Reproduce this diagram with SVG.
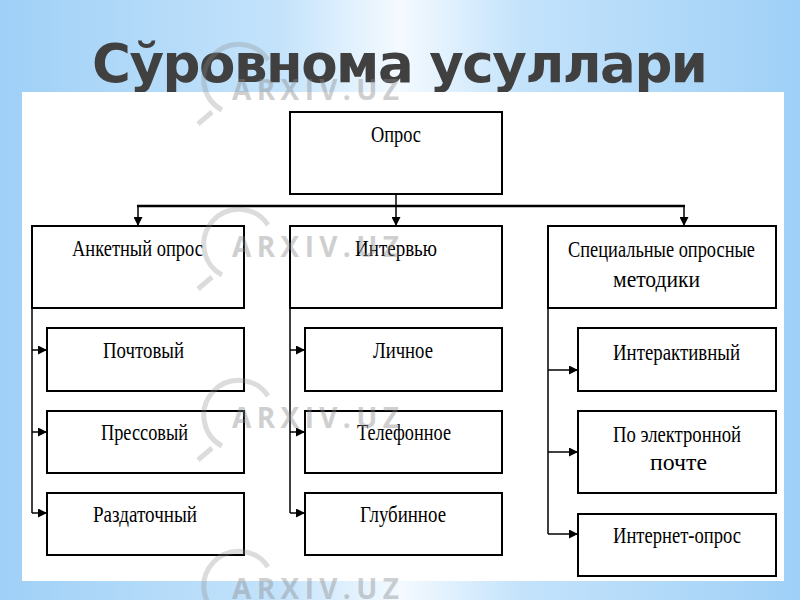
<svg xmlns="http://www.w3.org/2000/svg" width="800" height="600" viewBox="0 0 800 600">
<defs>
<linearGradient id="bg" x1="0" y1="0" x2="1" y2="0">
<stop offset="0" stop-color="#9fd0f7"/>
<stop offset="0.35" stop-color="#c4e3fb"/>
<stop offset="0.5" stop-color="#f4faff"/>
<stop offset="0.65" stop-color="#c4e3fb"/>
<stop offset="1" stop-color="#9fd0f7"/>
</linearGradient>
<marker id="ah" viewBox="0 0 10 10" refX="10" refY="5" markerWidth="11" markerHeight="9" markerUnits="userSpaceOnUse" orient="auto">
<path d="M0,0 L10,5 L0,10 Z" fill="#000"/>
</marker>
<style>
.box{fill:#fff;stroke:#000;stroke-width:2}
.t{font-family:"Liberation Serif","Times New Roman",serif;font-size:23px;fill:#000;text-anchor:start}
.c{fill:none;stroke:#000;stroke-width:1.5}
.ch{fill:none;stroke:#000;stroke-width:2.5}
.wm{font-family:"Open Sans","DejaVu Sans",sans-serif;font-weight:bold;font-size:28px;fill:#8a8a8a;opacity:0.4;letter-spacing:3px}
.wmc{fill:none;stroke:#8a8a8a;stroke-width:5;opacity:0.3}
</style>
</defs>
<rect x="0" y="0" width="800" height="600" fill="url(#bg)"/>
<text x="400" y="82" text-anchor="middle" font-family="DejaVu Sans, sans-serif" font-weight="bold" font-size="53" fill="#404040" textLength="616" lengthAdjust="spacing">Сўровнома усуллари</text>
<rect x="22" y="92" width="762" height="489" fill="#fff"/>

<g id="connectors">
<line class="c" x1="396" y1="194" x2="396" y2="206"/>
<line class="ch" x1="137" y1="206" x2="685" y2="206"/>
<line class="c" x1="138" y1="206" x2="138" y2="226" marker-end="url(#ah)"/>
<line class="c" x1="396" y1="206" x2="396" y2="226" marker-end="url(#ah)"/>
<line class="c" x1="684" y1="206" x2="684" y2="226" marker-end="url(#ah)"/>
<line class="c" x1="32" y1="308" x2="32" y2="513"/>
<line class="c" x1="32" y1="350" x2="47" y2="350" marker-end="url(#ah)"/>
<line class="c" x1="32" y1="432" x2="47" y2="432" marker-end="url(#ah)"/>
<line class="c" x1="32" y1="513" x2="47" y2="513" marker-end="url(#ah)"/>
<line class="c" x1="290" y1="308" x2="290" y2="513"/>
<line class="c" x1="290" y1="350" x2="305" y2="350" marker-end="url(#ah)"/>
<line class="c" x1="290" y1="432" x2="305" y2="432" marker-end="url(#ah)"/>
<line class="c" x1="290" y1="513" x2="305" y2="513" marker-end="url(#ah)"/>
<line class="c" x1="548" y1="308" x2="548" y2="534"/>
<line class="c" x1="548" y1="370" x2="578" y2="370" marker-end="url(#ah)"/>
<line class="c" x1="548" y1="452" x2="578" y2="452" marker-end="url(#ah)"/>
<line class="c" x1="548" y1="534" x2="578" y2="534" marker-end="url(#ah)"/>
</g>

<g id="opros"><rect class="box" x="290" y="112" width="212" height="82"/><text class="t" x="371" y="142" textLength="50" lengthAdjust="spacingAndGlyphs">Опрос</text></g>
<g id="anket"><rect class="box" x="32" y="226" width="212" height="82"/><text class="t" x="72" y="256" textLength="131" lengthAdjust="spacingAndGlyphs">Анкетный опрос</text></g>
<g id="interview"><rect class="box" x="290" y="226" width="212" height="82"/><text class="t" x="355" y="256" textLength="82" lengthAdjust="spacingAndGlyphs">Интервью</text></g>
<g id="special"><rect class="box" x="548" y="226" width="228" height="82"/><text class="t" x="568" y="257" textLength="187" lengthAdjust="spacingAndGlyphs">Специальные опросные</text><text class="t" x="613" y="287" textLength="87" lengthAdjust="spacingAndGlyphs">методики</text></g>

<g id="pochtovy"><rect class="box" x="47" y="328" width="197" height="63"/><text class="t" x="103" y="358" textLength="81" lengthAdjust="spacingAndGlyphs">Почтовый</text></g>
<g id="pressovy"><rect class="box" x="47" y="411" width="197" height="62"/><text class="t" x="101" y="440" textLength="87" lengthAdjust="spacingAndGlyphs">Прессовый</text></g>
<g id="razdatochny"><rect class="box" x="47" y="493" width="197" height="62"/><text class="t" x="93" y="522" textLength="104" lengthAdjust="spacingAndGlyphs">Раздаточный</text></g>

<g id="lichnoe"><rect class="box" x="305" y="328" width="197" height="63"/><text class="t" x="373" y="358" textLength="60" lengthAdjust="spacingAndGlyphs">Личное</text></g>
<g id="telefonnoe"><rect class="box" x="305" y="411" width="197" height="62"/><text class="t" x="357" y="440" textLength="94" lengthAdjust="spacingAndGlyphs">Телефонное</text></g>
<g id="glubinnoe"><rect class="box" x="305" y="493" width="197" height="62"/><text class="t" x="360" y="522" textLength="86" lengthAdjust="spacingAndGlyphs">Глубинное</text></g>

<g id="interaktivny"><rect class="box" x="578" y="328" width="198" height="63"/><text class="t" x="613" y="360" textLength="127" lengthAdjust="spacingAndGlyphs">Интерактивный</text></g>
<g id="email"><rect class="box" x="578" y="411" width="198" height="82"/><text class="t" x="613" y="442" textLength="128" lengthAdjust="spacingAndGlyphs">По электронной</text><text class="t" x="650" y="470" textLength="57" lengthAdjust="spacingAndGlyphs">почте</text></g>
<g id="internet"><rect class="box" x="578" y="514" width="198" height="62"/><text class="t" x="613" y="543" textLength="128" lengthAdjust="spacingAndGlyphs">Интернет-опрос</text></g>

<g id="watermarks">
<path class="wmc" d="M222,110 A35,35 0 1 1 268,60"/><line class="wmc" x1="212" y1="112" x2="198" y2="124"/>
<text class="wm" x="232" y="100" textLength="170">ARXIV.UZ</text>
<path class="wmc" d="M222,275 A35,35 0 1 1 268,225"/><line class="wmc" x1="212" y1="277" x2="198" y2="289"/>
<text class="wm" x="232" y="257" textLength="170">ARXIV.UZ</text>
<path class="wmc" d="M222,446 A35,35 0 1 1 268,396"/><line class="wmc" x1="212" y1="448" x2="198" y2="460"/>
<text class="wm" x="232" y="428" textLength="170">ARXIV.UZ</text>
<path class="wmc" d="M222,617 A35,35 0 1 1 268,567"/>
<text class="wm" x="232" y="599" textLength="170">ARXIV.UZ</text>
</g>
</svg>
